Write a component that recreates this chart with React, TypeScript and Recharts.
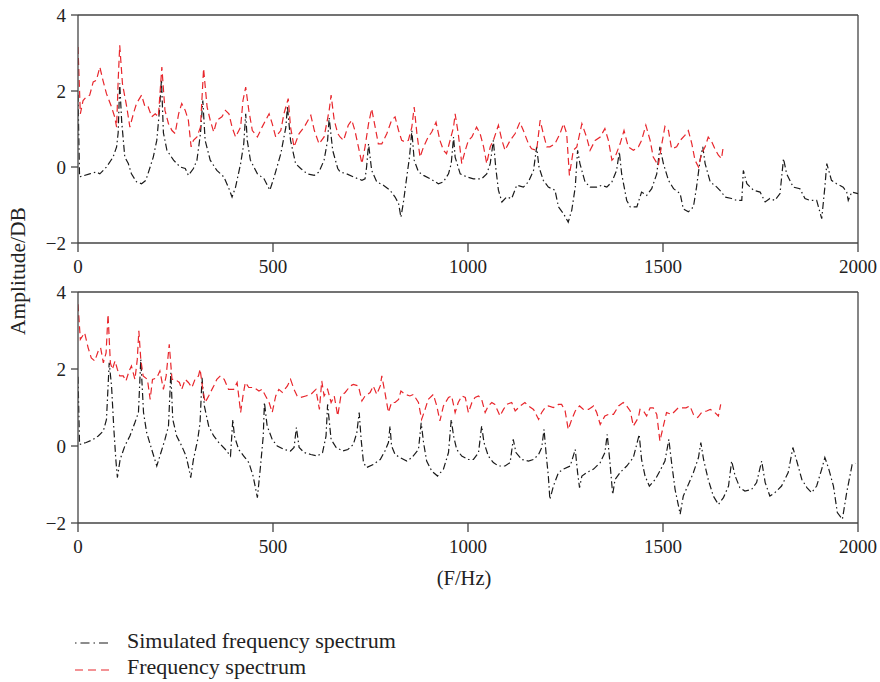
import { LineChart, Line, XAxis, YAxis, ReferenceLine } from "recharts";

// frequency (Hz) / amplitude (DB) pairs
const FREQ_TICKS = [0, 500, 1000, 1500, 2000];
const AMP_TICKS = [-2, 0, 2, 4];

const topSimulated: [number, number][] = [
  [0, 1.9], [4, -0.26], [30, -0.18], [47, -0.13], [56, -0.18], [73, 0.0], [90, 0.26], [99, 0.53], [103, 0.9],
  [107, 2.2], [112, 1.2], [120, 0.26], [129, 0.09], [137, -0.18], [150, -0.39], [163, -0.44], [174, -0.35],
  [185, 0.0], [193, 0.26], [202, 0.7], [209, 1.5], [214, 2.3], [219, 0.9], [228, 0.44], [245, 0.18], [262, 0.0],
  [275, -0.04], [283, -0.22], [296, -0.04], [305, 0.18], [314, 0.88], [320, 1.75], [326, 0.7], [339, 0.18],
  [356, -0.09], [374, -0.26], [387, -0.57], [395, -0.79], [404, -0.53], [417, 0.09], [425, 0.61], [430, 1.4],
  [434, 0.7], [442, 0.18], [460, -0.18], [477, -0.31], [492, -0.61], [503, -0.26], [520, 0.35], [533, 1.05],
  [537, 1.6], [545, 0.7], [558, 0.09], [571, -0.04], [588, -0.18], [606, -0.22], [618, -0.13], [631, 0.18],
  [640, 0.7], [644, 1.3], [653, 0.44], [666, -0.04], [672, -0.13], [689, -0.18], [706, -0.26], [728, -0.35],
  [736, -0.31], [740, 0.0], [745, 0.61], [749, 0.26], [753, -0.09], [766, -0.39], [783, -0.48], [800, -0.61],
  [813, -0.79], [822, -0.96], [828, -1.32], [834, -0.96], [843, -0.26], [850, 0.26], [856, 0.96], [862, 0.18],
  [873, -0.13], [886, -0.22], [903, -0.31], [924, -0.44], [937, -0.39], [950, -0.18], [957, 0.09], [963, 0.79],
  [967, 0.26], [980, -0.18], [997, -0.26], [1014, -0.31], [1035, -0.31], [1048, -0.18], [1057, 0.09], [1065, 0.7],
  [1071, 0.0], [1078, -0.61], [1087, -0.92], [1099, -0.79], [1112, -0.83], [1125, -0.48], [1142, -0.53],
  [1155, -0.39], [1168, -0.09], [1176, 0.53], [1182, 0.0], [1193, -0.35], [1206, -0.53], [1223, -0.61],
  [1232, -1.05], [1245, -1.23], [1257, -1.45], [1266, -1.14], [1275, -0.53], [1281, 0.44], [1287, 0.09],
  [1300, -0.39], [1313, -0.53], [1330, -0.53], [1343, -0.48], [1356, -0.53], [1369, -0.39], [1381, -0.09],
  [1388, 0.4], [1394, -0.18], [1407, -0.88], [1416, -1.05], [1433, -1.05], [1445, -0.66], [1458, -0.75],
  [1471, -0.57], [1484, -0.18], [1492, 0.53], [1501, 0.09], [1514, -0.35], [1527, -0.57], [1544, -0.7],
  [1552, -1.1], [1565, -1.18], [1578, -1.05], [1586, -0.53], [1595, 0.18], [1602, 0.53], [1608, 0.09],
  [1621, -0.39], [1638, -0.53], [1650, -0.66], [1659, -0.79], [1676, -0.83], [1689, -0.88], [1702, -0.88],
  [1706, -0.09], [1715, -0.44], [1732, -0.61], [1749, -0.66], [1762, -0.92], [1774, -0.83], [1787, -0.88],
  [1800, -0.7], [1809, 0.22], [1817, -0.18], [1834, -0.53], [1851, -0.57], [1864, -0.83], [1877, -0.88],
  [1894, -0.88], [1907, -1.36], [1915, -0.53], [1920, 0.09], [1932, -0.35], [1945, -0.44], [1962, -0.53],
  [1971, -0.66], [1975, -0.88], [1984, -0.66], [2000, -0.7],
];

const topMeasured: [number, number][] = [
  [0, 3.16], [6, 1.4], [13, 1.75], [21, 1.84], [30, 1.89], [39, 2.24], [47, 2.28], [56, 2.63], [64, 2.28],
  [73, 1.93], [86, 1.58], [94, 1.32], [99, 1.05], [103, 2.28], [107, 3.2], [114, 2.19], [125, 1.58], [133, 1.05],
  [142, 1.4], [150, 1.67], [163, 1.89], [172, 1.58], [180, 1.58], [189, 1.32], [198, 1.4], [206, 1.32],
  [215, 2.63], [223, 1.49], [232, 1.14], [241, 0.96], [249, 0.88], [258, 1.4], [266, 1.67], [275, 1.49],
  [283, 1.23], [290, 0.53], [296, 0.7], [305, 0.79], [314, 1.05], [322, 2.59], [331, 1.58], [339, 1.23],
  [348, 0.92], [356, 1.23], [369, 1.32], [378, 1.49], [387, 1.4], [395, 1.05], [404, 0.79], [417, 1.05],
  [423, 1.75], [430, 2.1], [438, 1.49], [447, 0.96], [460, 0.79], [472, 1.05], [490, 1.4], [498, 1.14],
  [507, 0.79], [520, 0.96], [528, 1.4], [539, 1.8], [545, 1.05], [554, 0.53], [567, 0.88], [580, 1.05],
  [597, 1.36], [606, 0.96], [618, 0.61], [631, 0.79], [644, 1.49], [649, 1.89], [657, 1.23], [666, 0.88],
  [672, 0.79], [681, 0.7], [693, 1.1], [702, 1.23], [710, 0.96], [719, 0.53], [728, 0.09], [736, 0.53],
  [745, 1.14], [753, 1.53], [762, 1.05], [770, 0.61], [779, 0.61], [792, 0.88], [804, 1.23], [813, 1.32],
  [822, 0.96], [830, 0.7], [839, 0.66], [847, 0.7], [856, 1.05], [862, 1.58], [869, 0.88], [877, 0.26],
  [886, 0.53], [898, 0.79], [907, 0.92], [918, 1.18], [928, 0.7], [937, 0.44], [945, 0.35], [954, 0.7],
  [963, 1.05], [967, 1.4], [975, 0.88], [984, 0.09], [993, 0.44], [1001, 0.7], [1010, 0.79], [1022, 1.05],
  [1031, 0.88], [1040, 0.53], [1048, 0.09], [1057, 0.53], [1065, 0.7], [1078, 1.1], [1087, 0.7], [1095, 0.44],
  [1108, 0.7], [1121, 0.88], [1133, 1.18], [1142, 0.96], [1155, 0.61], [1163, 0.48], [1176, 0.44], [1185, 1.23],
  [1193, 0.88], [1202, 0.53], [1210, 0.53], [1223, 0.61], [1236, 0.88], [1245, 1.14], [1253, 0.88],
  [1260, -0.22], [1270, 0.44], [1279, 0.53], [1292, 1.14], [1304, 0.79], [1313, 0.44], [1326, 0.7], [1339, 0.79],
  [1351, 1.01], [1360, 0.7], [1369, 0.18], [1377, 0.26], [1390, 0.61], [1400, 0.96], [1411, 0.53], [1424, 0.44],
  [1437, 0.53], [1445, 0.7], [1456, 1.1], [1467, 0.7], [1475, 0.26], [1488, 0.04], [1497, 0.61], [1505, 1.07],
  [1514, 0.96], [1522, 0.48], [1535, 0.53], [1544, 0.7], [1556, 0.83], [1565, 0.96], [1574, 0.61], [1582, 0.18],
  [1591, 0.0], [1599, 0.35], [1608, 0.53], [1616, 0.79], [1625, 0.66], [1633, 0.48], [1642, 0.31], [1650, 0.22],
  [1655, 0.57],
];

const bottomSimulated: [number, number][] = [
  [0, 1.8], [4, 0.04], [21, 0.09], [39, 0.17], [52, 0.26], [65, 0.39], [73, 0.69], [80, 2.16], [86, 1.56],
  [92, 0.43], [97, -0.35], [101, -0.82], [108, -0.35], [120, 0.0], [133, 0.26], [146, 0.61], [155, 0.87],
  [161, 2.25], [168, 0.87], [176, 0.35], [189, -0.09], [202, -0.52], [210, -0.26], [223, 0.17], [232, 0.52],
  [238, 1.9], [243, 0.69], [253, 0.26], [266, 0.0], [277, -0.26], [283, -0.52], [289, -0.82], [296, -0.35],
  [307, 0.17], [313, 0.61], [318, 1.77], [324, 1.04], [335, 0.52], [348, 0.26], [361, 0.09], [378, -0.09],
  [391, -0.26], [397, 0.69], [401, 0.26], [412, -0.09], [425, -0.26], [438, -0.43], [449, -0.78], [460, -1.34],
  [468, -0.52], [475, 0.26], [478, 1.13], [485, 0.52], [498, 0.17], [511, 0.0], [528, -0.09], [545, -0.13],
  [554, -0.04], [560, 0.48], [567, -0.04], [580, -0.17], [597, -0.22], [614, -0.26], [627, -0.17], [636, 0.26],
  [640, 1.08], [649, 0.17], [662, -0.04], [679, -0.13], [692, -0.09], [706, 0.04], [715, 0.35], [721, 0.87],
  [726, 0.17], [732, -0.43], [740, -0.56], [757, -0.48], [775, -0.35], [787, -0.13], [796, 0.09], [800, 0.52],
  [804, 0.0], [813, -0.22], [826, -0.3], [843, -0.39], [856, -0.3], [873, -0.09], [880, 0.6], [886, 0.09],
  [894, -0.39], [907, -0.65], [922, -0.78], [937, -0.6], [950, -0.17], [957, 0.69], [963, 0.26], [971, -0.09],
  [984, -0.26], [1001, -0.35], [1014, -0.35], [1027, -0.17], [1035, 0.52], [1041, 0.09], [1052, -0.26],
  [1065, -0.43], [1078, -0.52], [1095, -0.52], [1108, -0.43], [1116, 0.17], [1123, -0.17], [1138, -0.35],
  [1155, -0.39], [1168, -0.35], [1181, -0.22], [1189, -0.04], [1195, 0.43], [1200, -0.17], [1206, -0.78],
  [1210, -1.39], [1219, -1.04], [1232, -0.69], [1245, -0.6], [1262, -0.52], [1275, -0.09], [1281, -0.69],
  [1286, -1.08], [1292, -0.78], [1304, -0.69], [1322, -0.6], [1339, -0.43], [1351, -0.17], [1357, 0.3],
  [1364, -0.43], [1371, -1.26], [1377, -0.87], [1390, -0.69], [1407, -0.52], [1424, -0.3], [1439, 0.3],
  [1445, -0.35], [1454, -0.78], [1465, -1.04], [1480, -0.87], [1492, -0.65], [1505, -0.39], [1515, 0.17],
  [1522, -0.43], [1531, -1.13], [1544, -1.77], [1552, -1.3], [1565, -1.0], [1578, -0.69], [1591, -0.3],
  [1597, 0.09], [1604, -0.35], [1616, -0.87], [1629, -1.3], [1642, -1.52], [1655, -1.34], [1668, -1.04],
  [1676, -0.39], [1685, -0.78], [1697, -1.08], [1710, -1.17], [1727, -1.13], [1740, -0.95], [1753, -0.39],
  [1762, -0.95], [1774, -1.3], [1787, -1.21], [1804, -1.04], [1821, -0.69], [1833, -0.04], [1843, -0.39],
  [1856, -0.87], [1869, -1.08], [1881, -1.21], [1894, -1.04], [1907, -0.6], [1915, -0.3], [1924, -0.56],
  [1937, -1.04], [1947, -1.73], [1960, -1.9], [1971, -1.21], [1985, -0.48], [1993, -0.45],
];

const bottomMeasured: [number, number][] = [
  [0, 3.68], [6, 2.77], [17, 2.94], [26, 2.55], [34, 2.29], [43, 2.21], [52, 2.47], [58, 2.55], [65, 2.16],
  [72, 2.42], [77, 3.42], [83, 2.16], [88, 1.99], [95, 2.21], [101, 1.99], [107, 1.82], [116, 1.82], [123, 1.69],
  [131, 1.95], [137, 2.08], [146, 1.73], [152, 2.25], [156, 2.99], [161, 2.25], [167, 1.82], [178, 1.73],
  [185, 1.21], [191, 1.73], [202, 1.77], [210, 1.95], [219, 1.47], [226, 1.82], [234, 2.64], [241, 1.73],
  [249, 1.73], [260, 1.65], [266, 1.47], [275, 1.73], [283, 1.65], [292, 1.52], [300, 1.73], [309, 1.82],
  [313, 2.0], [320, 1.47], [326, 1.13], [335, 1.3], [348, 1.56], [356, 1.73], [365, 1.82], [375, 1.73],
  [386, 1.47], [399, 1.47], [408, 1.65], [417, 0.87], [423, 1.3], [429, 1.65], [438, 1.52], [451, 1.52],
  [464, 1.43], [472, 1.47], [481, 1.3], [490, 1.13], [498, 0.87], [507, 1.3], [515, 1.47], [524, 1.39],
  [537, 1.56], [545, 1.73], [554, 1.47], [562, 1.3], [571, 1.26], [584, 1.3], [597, 1.34], [610, 1.47],
  [619, 0.95], [625, 1.69], [631, 1.3], [640, 1.47], [649, 1.13], [657, 1.3], [666, 0.78], [674, 1.3],
  [685, 1.39], [698, 1.56], [706, 1.6], [719, 1.56], [728, 1.17], [736, 1.3], [749, 1.39], [757, 1.56],
  [766, 1.34], [775, 1.56], [779, 1.82], [787, 1.39], [796, 0.87], [804, 1.13], [813, 1.13], [822, 1.21],
  [828, 1.43], [839, 1.34], [851, 1.3], [860, 1.34], [873, 1.13], [881, 0.69], [890, 0.95], [898, 1.21],
  [911, 1.34], [920, 1.04], [928, 0.65], [937, 1.04], [950, 1.26], [958, 1.3], [967, 0.87], [975, 1.13],
  [984, 1.3], [993, 1.26], [1001, 0.87], [1010, 1.13], [1018, 1.26], [1027, 1.3], [1035, 1.21], [1044, 0.87],
  [1052, 1.04], [1061, 1.13], [1069, 1.08], [1082, 0.78], [1091, 0.95], [1099, 1.08], [1112, 1.13],
  [1121, 0.91], [1134, 1.04], [1146, 1.13], [1155, 1.04], [1168, 0.95], [1181, 0.69], [1189, 0.87], [1198, 1.0],
  [1206, 1.04], [1219, 1.0], [1232, 1.08], [1240, 1.08], [1249, 0.91], [1257, 0.43], [1266, 0.69], [1275, 0.91],
  [1286, 1.04], [1296, 0.95], [1309, 0.95], [1322, 1.04], [1330, 0.87], [1339, 0.56], [1351, 0.78],
  [1360, 0.82], [1373, 0.82], [1386, 1.04], [1398, 1.13], [1407, 1.04], [1416, 0.91], [1424, 0.52],
  [1437, 0.74], [1441, 0.95], [1450, 0.91], [1458, 0.78], [1467, 0.99], [1475, 0.99], [1484, 0.82],
  [1492, 0.13], [1501, 0.52], [1509, 0.87], [1522, 0.82], [1531, 0.91], [1539, 0.99], [1548, 0.99],
  [1559, 0.99], [1569, 1.04], [1578, 0.82], [1589, 0.74], [1599, 0.87], [1612, 0.91], [1621, 0.95],
  [1633, 0.87], [1642, 0.78], [1648, 1.08],
];

const SERIF = "'Liberation Serif', 'DejaVu Serif', serif";
const AXIS = "#444";
const SIM_COLOR = "#1a1a1a";
const MEAS_COLOR = "#e8262c";
const SIM_DASH = "7 3 1.5 3";
const MEAS_DASH = "7 4";

const toPoints = (rows: [number, number][]) => rows.map(([f, a]) => ({ f, a }));
const fmtAmp = (v: number) => (v < 0 ? `\u2212${Math.abs(v)}` : `${v}`);

type PanelProps = {
  sim: [number, number][];
  meas: [number, number][];
  top: number;
  marginTop: number;
  plotHeight: number;
};

function Panel({ sim, meas, top, marginTop, plotHeight }: PanelProps) {
  const tickStyle = { fill: "#222", fontSize: 19, fontFamily: SERIF };
  return (
    <div style={{ position: "absolute", left: 0, top }}>
      <LineChart width={880} height={280} margin={{ top: marginTop, right: 22, bottom: 0, left: 0 }}>
        <XAxis
          dataKey="f"
          type="number"
          domain={[0, 2000]}
          ticks={FREQ_TICKS}
          allowDataOverflow
          height={280 - marginTop - plotHeight}
          stroke={AXIS}
          strokeWidth={1.3}
          tickSize={9}
          tickMargin={8}
          tick={tickStyle}
        />
        <YAxis
          type="number"
          domain={[-2, 4]}
          ticks={AMP_TICKS}
          allowDataOverflow
          width={78}
          stroke={AXIS}
          strokeWidth={1.3}
          tickSize={7}
          tickMargin={5}
          tick={tickStyle}
          tickFormatter={fmtAmp}
        />
        {/* box edges */}
        <ReferenceLine y={4} stroke={AXIS} strokeWidth={1.3} />
        <ReferenceLine x={2000} stroke={AXIS} strokeWidth={1.3} />
        <Line
          data={toPoints(sim)}
          dataKey="a"
          type="linear"
          stroke={SIM_COLOR}
          strokeWidth={1.2}
          strokeDasharray={SIM_DASH}
          dot={false}
          isAnimationActive={false}
        />
        <Line
          data={toPoints(meas)}
          dataKey="a"
          type="linear"
          stroke={MEAS_COLOR}
          strokeWidth={1.2}
          strokeDasharray={MEAS_DASH}
          dot={false}
          isAnimationActive={false}
        />
      </LineChart>
    </div>
  );
}

export default function App() {
  return (
    <div
      style={{
        position: "absolute",
        left: 0,
        top: 0,
        width: 880,
        height: 682,
        background: "#fff",
        overflow: "hidden",
      }}
    >
      <Panel sim={topSimulated} meas={topMeasured} top={0} marginTop={15} plotHeight={228} />
      <Panel sim={bottomSimulated} meas={bottomMeasured} top={278} marginTop={14} plotHeight={231} />

      <svg width={880} height={682} style={{ position: "absolute", left: 0, top: 0, pointerEvents: "none" }}>
        <text
          x={0}
          y={0}
          transform="translate(25 271) rotate(-90)"
          textAnchor="middle"
          fontFamily={SERIF}
          fontSize={21.5}
          fill="#222"
        >
          Amplitude/DB
        </text>
        <text x={464} y={585} textAnchor="middle" fontFamily={SERIF} fontSize={20.5} fill="#222">
          (F/Hz)
        </text>

        <line x1={75} y1={643} x2={110} y2={643} stroke={SIM_COLOR} strokeWidth={1.2} strokeDasharray="1.5 4 9 4" />
        <text x={127} y={648} fontFamily={SERIF} fontSize={22} fill="#222">
          Simulated frequency spectrum
        </text>
        <line x1={75} y1={670} x2={110} y2={670} stroke={MEAS_COLOR} strokeWidth={1.2} strokeDasharray="8 5" />
        <text x={127} y={674} fontFamily={SERIF} fontSize={22} fill="#222">
          Frequency spectrum
        </text>
      </svg>
    </div>
  );
}
